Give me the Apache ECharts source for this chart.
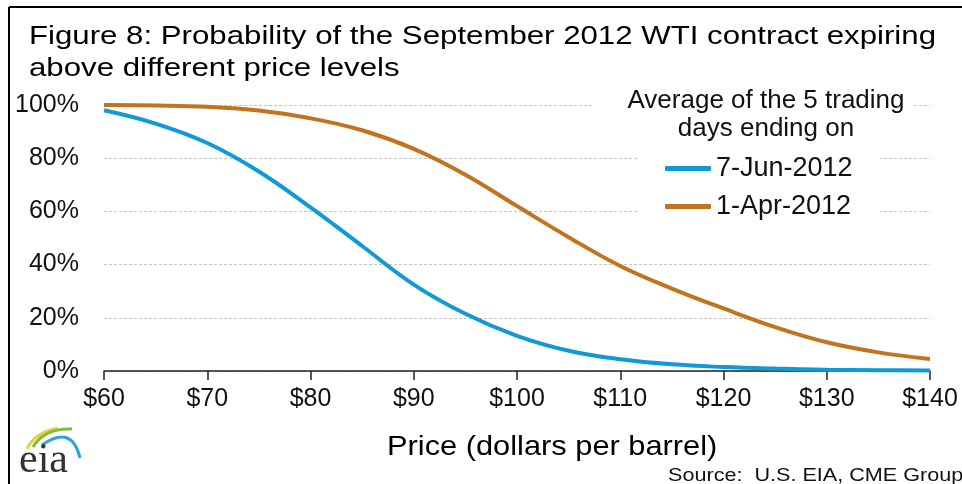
<!DOCTYPE html>
<html>
<head>
    <meta charset="utf-8" />
    <title>WTI probability</title>
    <script src="https://cdn.jsdelivr.net/npm/echarts@6.0.0/dist/echarts.min.js"></script>
    <style>
        html, body { margin: 0; padding: 0; background: #fff; }
    </style>
</head>
<body>
    <div id="main" style="width: 962px;height: 484px;"></div>
    <script type="text/javascript">
        // price levels ($/barrel) and probability of expiring above them (%)
        var prices = [60, 65, 70, 75, 80, 85, 90, 95, 100, 105, 110, 115, 120, 125, 130, 135, 140];
        var jun2012 = [98, 93, 85.7, 75, 61.5, 47, 32.5, 21.5, 13.2, 7.6, 4.4, 2.5, 1.5, 0.9, 0.5, 0.3, 0.2];
        var apr2012 = [100, 99.8, 99.3, 97.9, 95, 90.5, 83.5, 73.8, 62, 50.3, 39.5, 31, 23.5, 16.5, 10.8, 7, 4.5];
        var yTicks = [0, 20, 40, 60, 80, 100];

        var font = 'Liberation Sans';
        var myChart = echarts.init(document.getElementById('main'));

        function pairs(ys) {
            return prices.map(function (p, i) { return [p, ys[i]]; });
        }

        var option = {
            animation: false,
            backgroundColor: '#fff',
            textStyle: { fontFamily: font },
            grid: { left: 104, right: 32, top: 105, bottom: 113 },
            legend: {
                orient: 'vertical',
                left: 665,
                top: 155,
                padding: 0,
                itemWidth: 46,
                itemHeight: 5,
                itemGap: 11,
                icon: 'roundRect',
                textStyle: { fontSize: 27, color: '#111', fontFamily: font },
                data: ['7-Jun-2012', '1-Apr-2012']
            },
            xAxis: {
                type: 'value',
                min: 60,
                max: 140,
                interval: 10,
                axisLine: { lineStyle: { color: '#222', width: 1.5 } },
                axisTick: { show: true, length: 9, lineStyle: { color: '#222', width: 1.5 } },
                axisLabel: {
                    fontSize: 25, color: '#111', margin: 16,
                    formatter: function (v) { return '$' + v; }
                },
                splitLine: { show: false }
            },
            yAxis: {
                type: 'value',
                min: 0,
                max: 100,
                interval: 20,
                axisLine: { show: false },
                axisTick: { show: false },
                axisLabel: {
                    fontSize: 25, color: '#111', margin: 25,
                    formatter: function (v) { return yTicks.indexOf(v) >= 0 ? v + '%' : ''; }
                },
                splitLine: { lineStyle: { color: '#c9c2c9', type: [3, 2], width: 1 } }
            },
            graphic: [
                // frame lines on the left and top
                { type: 'line', shape: { x1: 9, y1: 7, x2: 962, y2: 7 }, style: { stroke: '#000', lineWidth: 2 }, z: 10 },
                { type: 'line', shape: { x1: 9, y1: 7, x2: 9, y2: 484 }, style: { stroke: '#000', lineWidth: 2 }, z: 10 },
                // title, drawn a little wide like the original
                {
                    type: 'text', x: 29, y: 21, scaleX: 1.2, z: 10,
                    style: {
                        text: 'Figure 8: Probability of the September 2012 WTI contract expiring\nabove different price levels',
                        fontSize: 26, fontFamily: font, fill: '#000', lineHeight: 32,
                        verticalAlign: 'top'
                    }
                },
                // white box behind the legend
                { type: 'rect', shape: { x: 593, y: 86, width: 320, height: 32 }, style: { fill: '#fff' }, z: 3 },
                { type: 'rect', shape: { x: 637, y: 116, width: 243, height: 110 }, style: { fill: '#fff' }, z: 3 },
                {
                    type: 'text', x: 766, y: 87, z: 5,
                    style: {
                        text: 'Average of the 5 trading\ndays ending on', fontSize: 26, fontFamily: font,
                        fill: '#111', align: 'center', verticalAlign: 'top', lineHeight: 28
                    }
                },
                // axis title
                {
                    type: 'text', x: 387, y: 433, scaleX: 1.1, z: 5,
                    style: {
                        text: 'Price (dollars per barrel)', fontSize: 28, fontFamily: font,
                        fill: '#000', verticalAlign: 'top'
                    }
                },
                {
                    type: 'text', x: 668, y: 467, scaleX: 1.2, z: 5,
                    style: { text: 'Source:  U.S. EIA, CME Group', fontSize: 18, fontFamily: font, fill: '#111', verticalAlign: 'top' }
                },
                // eia logo
                {
                    type: 'group', x: 0, y: 0, z: 5,
                    children: [
                        { type: 'bezierCurve', shape: { x1: 27, y1: 449, cpx1: 34, cpy1: 433, x2: 58, y2: 428 }, style: { stroke: '#e8d33a', lineWidth: 3, fill: null } },
                        { type: 'bezierCurve', shape: { x1: 33, y1: 447, cpx1: 44, cpy1: 428, x2: 72, y2: 429 }, style: { stroke: '#7dbb42', lineWidth: 3, fill: null } },
                        { type: 'bezierCurve', shape: { x1: 42, y1: 445, cpx1: 72, cpy1: 424, x2: 80, y2: 458 }, style: { stroke: '#2ea3dc', lineWidth: 3, fill: null } },
                        { type: 'text', x: 19, y: 440, style: { text: 'eia', fontSize: 42, fontFamily: 'Liberation Serif', fill: '#333', verticalAlign: 'top' } }
                    ]
                }
            ],
            series: [
                {
                    name: '7-Jun-2012',
                    type: 'line',
                    smooth: 0.4,
                    showSymbol: false,
                    data: pairs(jun2012),
                    itemStyle: { color: '#0f9ad6' },
                    lineStyle: { color: '#0f9ad6', width: 4 }
                },
                {
                    name: '1-Apr-2012',
                    type: 'line',
                    smooth: 0.4,
                    showSymbol: false,
                    data: pairs(apr2012),
                    itemStyle: { color: '#c1731e' },
                    lineStyle: { color: '#c1731e', width: 4 }
                }
            ]
        };

        myChart.setOption(option);
    </script>
</body>
</html>
